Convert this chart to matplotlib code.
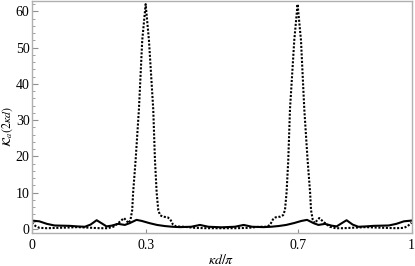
import numpy as np
import matplotlib
matplotlib.use('Agg')
import matplotlib.pyplot as plt
from matplotlib.ticker import MultipleLocator

plt.rcParams['font.family'] = ['Liberation Serif', 'DejaVu Serif']
plt.rcParams['mathtext.fontset'] = 'stix'

# solid curve
kd_solid = [0.00, 0.02, 0.04, 0.06, 0.08, 0.10, 0.12, 0.14, 0.155, 0.171, 0.185,
            0.197, 0.21, 0.228, 0.245, 0.258, 0.276, 0.29, 0.31, 0.33, 0.35, 0.37,
            0.39, 0.42, 0.443, 0.465, 0.50, 0.535, 0.558, 0.58, 0.61, 0.63, 0.65,
            0.67, 0.69, 0.71, 0.725, 0.742, 0.755, 0.772, 0.79, 0.803, 0.815,
            0.829, 0.845, 0.86, 0.88, 0.90, 0.92, 0.94, 0.96, 0.98, 1.00]
k_solid = [2.3, 2.1, 1.4, 0.95, 0.9, 0.85, 0.7, 0.6, 1.2, 2.4, 1.5,
           0.7, 0.9, 1.4, 1.1, 1.6, 2.5, 2.2, 1.6, 1.1, 0.8, 0.6,
           0.5, 0.6, 1.1, 0.6, 0.45, 0.6, 1.1, 0.6, 0.5, 0.6, 0.8,
           1.1, 1.6, 2.2, 2.5, 1.6, 1.1, 1.4, 0.9, 0.7, 1.5,
           2.4, 1.2, 0.6, 0.7, 0.85, 0.9, 0.95, 1.4, 2.1, 2.3]

# dotted curve
kd_dot = [0.00, 0.01, 0.02, 0.04, 0.07, 0.10, 0.12, 0.14, 0.16, 0.18, 0.20,
          0.215, 0.23, 0.243, 0.25, 0.255, 0.26, 0.2646, 0.267, 0.2736, 0.2823,
          0.291, 0.300, 0.3087, 0.320, 0.3245, 0.329, 0.3332, 0.338, 0.345,
          0.358, 0.365, 0.372, 0.38, 0.40, 0.43, 0.46, 0.50, 0.54, 0.57, 0.60,
          0.62, 0.628, 0.635, 0.642, 0.655, 0.662, 0.6668, 0.671, 0.6755, 0.680,
          0.6913, 0.700, 0.709, 0.7177, 0.7264, 0.733, 0.7354, 0.74, 0.745, 0.75,
          0.757, 0.77, 0.785, 0.80, 0.82, 0.84, 0.86, 0.88, 0.90, 0.93, 0.96,
          0.98, 0.99, 1.00]
k_dot = [1.7, 0.8, 0.3, 0.2, 0.3, 0.4, 0.5, 0.4, 0.3, 0.2, 0.2,
         0.6, 1.8, 3.0, 2.2, 1.6, 2.5, 5.2, 10, 19, 33,
         52, 62, 52, 33, 19, 10, 5.2, 3.8, 3.4,
         3.2, 2.6, 1.2, 0.7, 0.6, 0.3, 0.2, 0.2, 0.2, 0.3, 0.6,
         0.6, 1.2, 2.6, 3.2, 3.4, 3.8, 5.2, 10, 19, 33,
         52, 62, 52, 33, 19, 10, 5.2, 2.5, 1.6, 2.2,
         3.0, 1.8, 0.6, 0.2, 0.2, 0.3, 0.4, 0.5, 0.4, 0.3, 0.2,
         0.3, 0.8, 1.7]

xticks = [0, 0.3, 0.7, 1]
xticklabels = ['0', '0.3', '0.7', '1']

fig = plt.figure(figsize=(4.15, 2.66), dpi=100)
ax = fig.add_axes([0.0764, 0.123, 0.9152, 0.875])

ax.plot(kd_dot, k_dot, color='black', lw=1.5, linestyle=(0, (1, 0.8)))
ax.plot(kd_solid, k_solid, color='black', lw=1.5)

ax.set_xlim(0, 1)
ax.set_ylim(-1.2, 63)
ax.set_xticks(xticks)
ax.set_xticklabels(xticklabels)
ax.set_yticks([0, 10, 20, 30, 40, 50, 60])
ax.yaxis.set_minor_locator(MultipleLocator(2))

for s in ax.spines.values():
    s.set_color('#b0b0b0')
    s.set_linewidth(1.0)

ax.tick_params(axis='both', which='both', direction='in', color='#909090',
               labelsize=10, top=False, right=False)
ax.tick_params(axis='y', which='major', length=4, pad=1.5)
ax.tick_params(axis='y', which='minor', length=2)
ax.tick_params(axis='x', which='major', length=3, pad=4)

ax.set_xlabel(r'$\kappa d/\pi$', fontsize=10, labelpad=1)
ax.set_ylabel(r'$\mathcal{K}_a(2\kappa d)$', fontsize=8.5)
ax.yaxis.set_label_coords(-0.044, 0.457)

fig.savefig('out.png', dpi=100)
